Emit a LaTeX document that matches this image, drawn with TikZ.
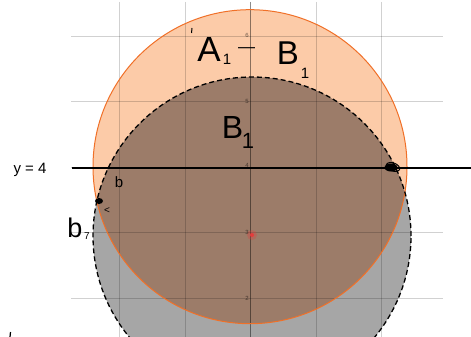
\documentclass[tikz,border=0pt]{standalone}
\usepackage{fontspec}
\setmainfont{Liberation Sans}
\usetikzlibrary{shapes.geometric}
\definecolor{lightorange}{RGB}{252,203,168}
\definecolor{brownx}{RGB}{156,124,105}
\definecolor{grayfill}{RGB}{166,166,166}
\definecolor{orangeline}{RGB}{240,112,40}
\definecolor{reddot}{RGB}{228,60,60}
\tikzset{
  gridline/.style={draw=black, draw opacity=0.18, line width=0.9pt},
  axisline/.style={draw=black, draw opacity=0.45, line width=0.9pt},
  ticklab/.style={text=black, text opacity=0.55, font=\fontsize{6}{6}\selectfont, inner sep=0pt, anchor=east},
  hw/.style={text=black, inner sep=0pt, anchor=base},
}
\begin{document}
\begin{tikzpicture}[x=1pt,y=-1pt]
\useasboundingbox (0,0) rectangle (471,337);
% fills
\fill[grayfill] (252,236) circle (159pt);
\fill[lightorange] (250,166.7) circle (157pt);
\begin{scope}
  \clip (250,166.7) circle (157pt);
  \fill[brownx] (252,236) circle (159pt);
\end{scope}
% grid
\foreach \gx in {119,185,316,381} {\draw[gridline] (\gx,2) -- (\gx,337);}
\foreach \gy in {36,101,167,232,298} {\draw[gridline] (71,\gy) -- (443,\gy);}
\draw[axisline] (250,2) -- (250,337);
\node[ticklab] (t6) at (249,35.5) {6};
\node[ticklab] (t5) at (249,101) {5};
\node[ticklab] (t4) at (249,165) {4};
\node[ticklab] (t3) at (249,232) {3};
\node[ticklab] (t2) at (249,298) {2};
% circles
\draw[orangeline, line width=1pt] (250,166.7) circle (157pt);
\draw[black, line width=1.3pt, dash pattern=on 5pt off 3pt] (252,236) circle (159pt);
% centre point
\fill[reddot, opacity=0.3] (252,235) circle (5pt);
\node[circle, fill=reddot, inner sep=0pt, minimum size=4pt] (c) at (252,235) {};
% line y=4
\coordinate (la) at (72,168);
\coordinate (lb) at (471,168);
\draw[black, line width=2pt] (la) -- (lb);
% marks
\node[ellipse, fill=black, inner sep=0pt, minimum width=8pt, minimum height=6pt] (p) at (99,201) {};
\fill[black] (391,167.5) ellipse (6.5pt and 4pt);
\draw[black, line width=1pt, rotate around={-20:(393,167)}] (393,167) ellipse (7pt and 4pt);
% handwriting
\node[hw, font=\fontsize{35}{35}\selectfont] (A) at (209,62) {A};
\node[hw, font=\fontsize{15}{15}\selectfont] (A1) at (227,64) {1};
\node[hw, font=\fontsize{17}{17}\selectfont] (minus) at (246.5,52.8) {—};
\node[hw, font=\fontsize{33}{33}\selectfont] (B) at (288,65) {B};
\node[hw, font=\fontsize{15}{15}\selectfont] (B1) at (305,78) {1};
\node[hw, font=\fontsize{32}{32}\selectfont] (C) at (232.5,138) {B};
\node[hw, font=\fontsize{22}{22}\selectfont] (C1) at (248,148) {1};
\node[hw, font=\fontsize{15}{15}\selectfont] (y4) at (30,173) {y = 4};
\node[hw, font=\fontsize{15}{15}\selectfont] (b) at (119,187) {b};
\node[hw, font=\fontsize{27}{27}\selectfont] (b7) at (75,237) {b};
\node[hw, font=\fontsize{10}{10}\selectfont] (s7) at (87,239) {7};
\node[hw, font=\fontsize{10}{10}\selectfont] (arr) at (107,213) {<};
\draw[black, line width=1pt] (192,28) -- (191.5,33);
\draw[black, line width=1.2pt] (10.5,332) -- (10,337);
\end{tikzpicture}
\end{document}
